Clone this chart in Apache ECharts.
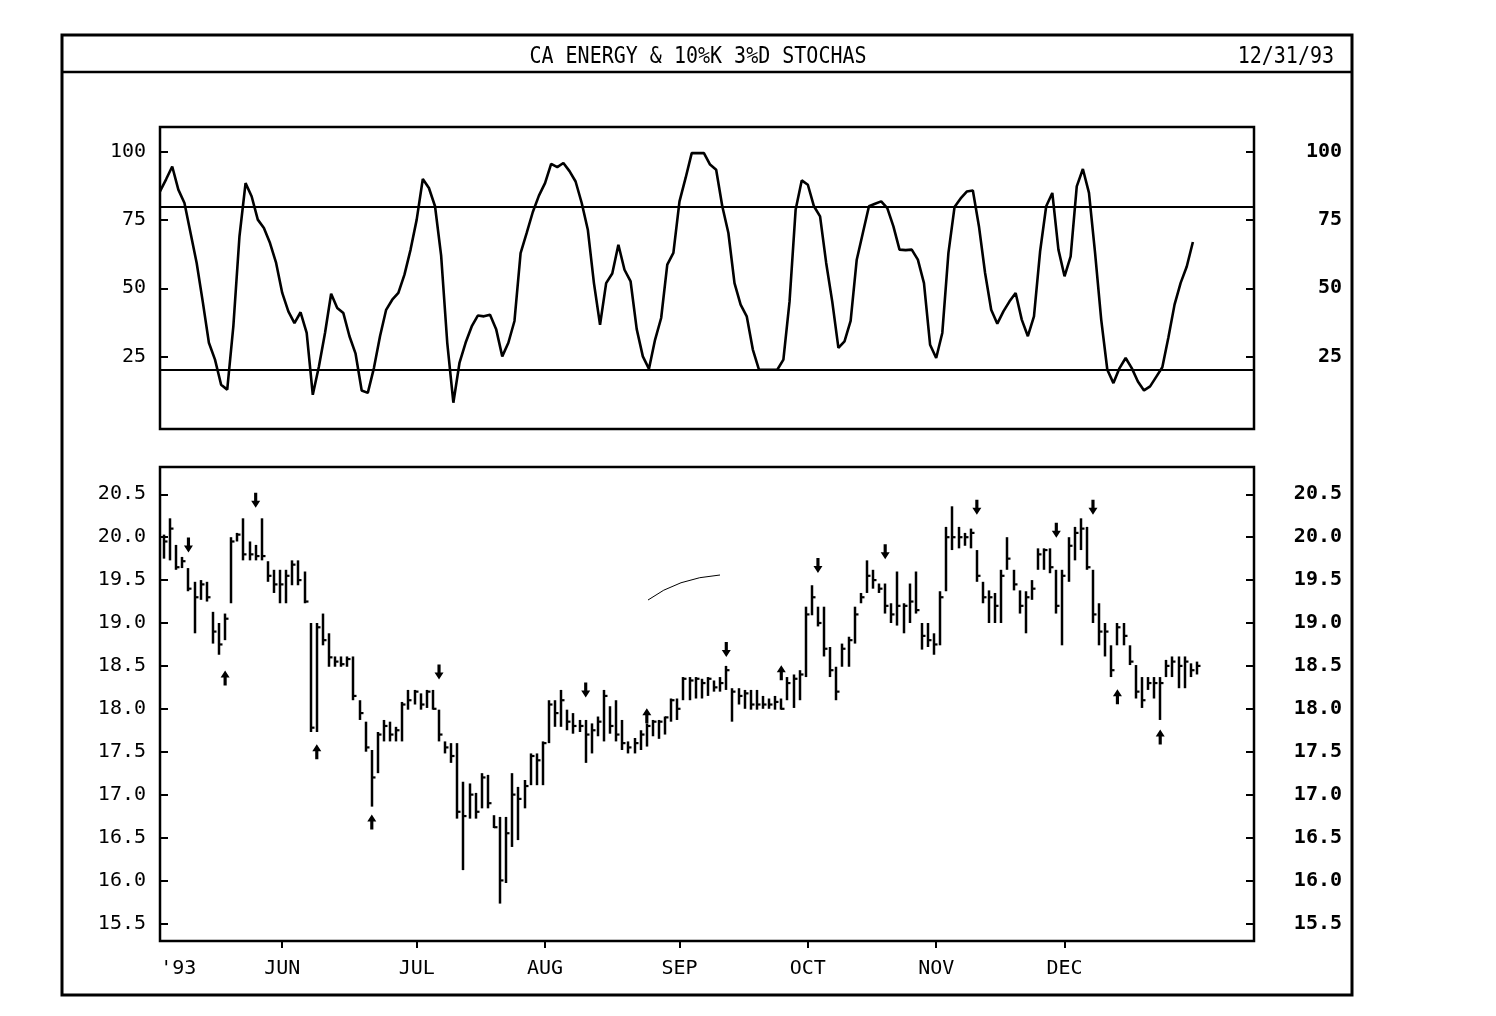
<!DOCTYPE html>
<html><head><meta charset="utf-8">
<script src="https://cdn.jsdelivr.net/npm/echarts@6/dist/echarts.min.js"></script>
<style>html,body{margin:0;padding:0;background:#fff}#c{width:1496px;height:1016px}</style>
</head><body><div id="c"></div>
<script>
// ---- data (trading-day index 0 = 3 May 1993 ... 169 = 31 Dec 1993) ----
const stochK = [
85.6,90,94.7,86.2,81.3,70.3,59.3,45,30,23.8,
14.6,12.8,36,69,88.6,83.7,75.2,72.1,66.6,59.3,
48.3,41.5,37.2,41.2,33.6,10.9,21.3,33.6,48,42.8,
40.9,32.4,26,12.5,11.6,20.7,32.4,42.1,45.8,48.3,
55,64.2,75.2,90.1,86.8,80.1,62,30,8,22.6,
30,36,40,39.7,40.3,35,25,30,38,62.9,
70.3,78,84,88.6,95.7,94.5,96,93,89.2,81.3,
71.5,51.9,36.6,51.9,55.4,66,56.8,52.5,35,25,
20.4,31.1,39.1,58.7,63,81.9,90.5,99.6,99.6,99.6,
95.4,93.5,80.1,70.3,51.9,44,39.7,27.5,20.1,20.1,
20.1,20.1,23.8,45,78.8,89.6,88,80.1,76.4,59.3,
45,28.1,30.5,38,60.5,70.3,80.1,81,81.9,79.4,
72.7,64.2,64,64.2,60.5,51.9,29.3,24.4,33.6,62.9,
79.8,83,85.5,85.9,72.7,55.6,42.1,37,41.5,45.2,
48.3,38.5,32.4,39.7,63.5,80.1,85,64.2,54.4,61.7,
87.4,93.8,85,62.9,38.5,20.1,15.2,20.7,24.4,20.7,
15.8,12.5,14,17.5,21,32,44,52,58,67
];
const highs = [
20.03,20.22,19.91,19.77,19.64,19.48,19.50,19.48,19.13,19.00,
19.11,20.00,20.05,20.22,19.95,19.91,20.22,19.72,19.62,19.62,
19.62,19.73,19.73,19.60,19.00,19.00,19.11,18.88,18.61,18.61,
18.61,18.61,18.10,17.85,17.52,17.73,17.87,17.85,17.79,18.08,
18.22,18.22,18.18,18.22,18.22,17.99,17.62,17.60,17.60,17.15,
17.13,17.02,17.25,17.23,16.76,16.74,16.74,17.25,17.09,17.17,
17.48,17.48,17.62,18.10,18.10,18.22,17.99,17.95,17.87,17.87,
17.83,17.91,18.22,18.03,18.10,17.87,17.62,17.66,17.75,17.83,
17.87,17.87,17.91,18.12,18.12,18.37,18.37,18.37,18.35,18.37,
18.33,18.37,18.50,18.24,18.24,18.22,18.22,18.22,18.15,18.12,
18.15,18.12,18.37,18.40,18.45,19.19,19.44,19.19,19.19,18.72,
18.49,18.76,18.84,19.19,19.35,19.73,19.62,19.46,19.46,19.23,
19.60,19.23,19.46,19.60,19.00,19.00,18.88,19.37,20.12,20.36,
20.12,20.05,20.10,19.85,19.48,19.38,19.35,19.62,20.00,19.62,
19.38,19.37,19.50,19.87,19.87,19.87,19.62,19.62,20.00,20.12,
20.22,20.12,19.62,19.23,19.00,18.74,19.00,19.00,18.74,18.51,
18.37,18.37,18.37,18.37,18.57,18.61,18.61,18.61,18.53,18.55
];
const lows = [
19.75,19.73,19.62,19.64,19.37,18.88,19.27,19.25,18.76,18.63,
18.80,19.23,19.95,19.73,19.73,19.73,19.73,19.48,19.35,19.23,
19.23,19.44,19.44,19.23,17.73,17.73,18.74,18.49,18.49,18.49,
18.49,18.10,17.87,17.50,16.86,17.25,17.62,17.62,17.62,17.62,
17.99,18.05,17.99,18.01,17.99,17.62,17.48,17.37,16.72,16.12,
16.72,16.72,16.84,16.84,16.61,15.73,15.97,16.39,16.47,16.84,
17.11,17.11,17.11,17.60,17.79,17.79,17.75,17.71,17.73,17.37,
17.48,17.68,17.62,17.71,17.62,17.52,17.48,17.48,17.52,17.56,
17.68,17.65,17.70,17.85,17.87,18.10,18.10,18.12,18.12,18.15,
18.20,18.20,18.22,17.85,18.05,18.00,17.99,17.99,18.00,18.00,
17.99,17.99,18.10,18.01,18.10,18.37,19.09,18.96,18.61,18.37,
18.10,18.49,18.49,18.76,19.23,19.35,19.40,19.35,19.11,19.00,
18.97,18.88,19.00,19.11,18.69,18.72,18.63,18.74,19.37,19.85,
19.87,19.90,19.87,19.48,19.23,19.00,19.00,19.00,19.62,19.38,
19.11,18.88,19.27,19.62,19.62,19.58,19.11,18.74,19.48,19.73,
19.85,19.62,19.00,18.74,18.61,18.37,18.74,18.74,18.51,18.12,
18.01,18.22,18.12,17.87,18.37,18.37,18.24,18.24,18.37,18.40
];
const closes = [
19.95,20.10,19.65,19.72,19.40,19.30,19.45,19.30,18.90,18.75,
19.05,19.95,20.03,19.80,19.80,19.78,19.78,19.55,19.45,19.45,
19.55,19.68,19.50,19.25,17.78,18.95,18.80,18.60,18.55,18.52,
18.58,18.15,17.95,17.55,17.20,17.70,17.80,17.70,17.75,18.05,
18.10,18.20,18.05,18.20,18.00,17.70,17.55,17.45,16.80,16.75,
17.00,16.80,17.20,16.90,16.62,16.00,16.55,17.00,16.95,17.10,
17.45,17.40,17.60,18.05,17.95,18.10,17.85,17.80,17.80,17.70,
17.75,17.85,18.15,17.80,17.70,17.60,17.55,17.60,17.70,17.80,
17.85,17.85,17.90,18.10,18.00,18.35,18.33,18.35,18.30,18.35,
18.25,18.30,18.45,18.20,18.15,18.18,18.05,18.05,18.05,18.05,
18.08,18.00,18.30,18.35,18.40,19.10,19.30,19.00,18.70,18.45,
18.20,18.70,18.80,19.10,19.30,19.55,19.50,19.40,19.20,19.10,
19.20,19.20,19.25,19.15,18.85,18.80,18.75,19.30,20.00,20.00,
20.00,20.00,20.05,19.55,19.30,19.30,19.20,19.55,19.75,19.45,
19.20,19.30,19.40,19.80,19.85,19.65,19.20,19.55,19.90,20.05,
20.10,19.65,19.10,18.90,18.90,18.45,18.95,18.85,18.55,18.20,
18.10,18.30,18.30,18.30,18.50,18.55,18.50,18.55,18.45,18.50
];
const sellDays   = [4, 15, 45, 69, 92, 107, 118, 133, 146, 152];
const sellLevels = [19.91, 20.43, 18.43, 18.22, 18.69, 19.67, 19.83, 20.35, 20.08, 20.35];
const buyDays    = [10, 25, 34, 79, 101, 156, 163];
const buyLevels  = [18.36, 17.50, 16.68, 17.92, 18.42, 18.14, 17.67];
const monthTickDays  = [20, 42, 63, 85, 106, 127, 148];
const monthLabelDays = [3, 20, 42, 63, 85, 106, 127, 148];
const monthLabels    = ["'93", 'JUN', 'JUL', 'AUG', 'SEP', 'OCT', 'NOV', 'DEC'];
const stochTicks = [25, 50, 75, 100];
const stochBands = [80, 20];
const priceTicks = [15.5, 16.0, 16.5, 17.0, 17.5, 18.0, 18.5, 19.0, 19.5, 20.0, 20.5];
const titleText = 'CA ENERGY & 10%K 3%D STOCHAS';
const dateText = '12/31/93';

// ---- chart ----
const FONT = 'DejaVu Sans Mono';
const BAR_SHIFT = 4;
const chart = echarts.init(document.getElementById('c'), null, {renderer: 'canvas'});
const priceData = highs.map((h, i) => [i, h, lows[i], closes[i]]);
const lbl = (extra) => Object.assign({color: '#000', fontFamily: FONT, fontSize: 20}, extra);
const tick = (vals) => ({show: true, inside: true, length: 8, customValues: vals, lineStyle: {color: '#000', width: 2}});
const downArrow = 'path://M2.6,0 L5.4,0 L5.4,8 L8,8 L4,15 L0,8 L2.6,8 Z';
const upArrow = 'path://M4,0 L8,7 L5.4,7 L5.4,15 L2.6,15 L2.6,7 L0,7 Z';

chart.setOption({
  animation: false,
  backgroundColor: '#fff',
  graphic: [
    {type: 'rect', shape: {x: 62, y: 35, width: 1290, height: 960}, style: {fill: 'none', stroke: '#000', lineWidth: 3}},
    {type: 'line', shape: {x1: 62, y1: 72, x2: 1352, y2: 72}, style: {stroke: '#000', lineWidth: 2.5}},
    {type: 'text', x: 698, y: 57, scaleY: 1.15, style: {text: titleText, fill: '#000', font: '20px ' + FONT, textAlign: 'center', textVerticalAlign: 'middle'}},
    {type: 'text', x: 1334, y: 57, scaleY: 1.15, style: {text: dateText, fill: '#000', font: '20px ' + FONT, textAlign: 'right', textVerticalAlign: 'middle'}},
    {type: 'bezierCurve', shape: {x1: 648, y1: 600, cpx1: 678, cpy1: 578, x2: 720, y2: 575}, style: {stroke: '#000', lineWidth: 1, fill: 'none'}}
  ],
  grid: [
    {left: 160, top: 127, width: 1094, height: 302, show: true, borderColor: '#000', borderWidth: 2.5, backgroundColor: 'transparent'},
    {left: 160, top: 467, width: 1094, height: 474, show: true, borderColor: '#000', borderWidth: 2.5, backgroundColor: 'transparent'}
  ],
  xAxis: [
    {gridIndex: 0, type: 'value', min: 0, max: 179, show: false},
    {gridIndex: 1, type: 'value', min: 0, max: 179,
     axisLine: {show: false}, splitLine: {show: false},
     axisTick: {show: true, inside: false, length: 7, customValues: monthTickDays, lineStyle: {color: '#000', width: 2}},
     axisLabel: lbl({customValues: monthLabelDays, margin: 18, formatter: v => monthLabels[monthLabelDays.indexOf(v)] || ''})}
  ],
  yAxis: [
    {gridIndex: 0, type: 'value', min: -1.65, max: 109.2, position: 'left',
     axisLine: {show: false}, splitLine: {show: false}, axisTick: tick(stochTicks),
     axisLabel: lbl({customValues: stochTicks, margin: 14})},
    {gridIndex: 0, type: 'value', min: -1.65, max: 109.2, position: 'right',
     axisLine: {show: false}, splitLine: {show: false}, axisTick: tick(stochTicks),
     axisLabel: lbl({customValues: stochTicks, margin: 88, align: 'right', fontWeight: 'bold'})},
    {gridIndex: 1, type: 'value', min: 15.294, max: 20.818, position: 'left',
     axisLine: {show: false}, splitLine: {show: false}, axisTick: tick(priceTicks),
     axisLabel: lbl({customValues: priceTicks, margin: 14, formatter: v => v.toFixed(1)})},
    {gridIndex: 1, type: 'value', min: 15.294, max: 20.818, position: 'right',
     axisLine: {show: false}, splitLine: {show: false}, axisTick: tick(priceTicks),
     axisLabel: lbl({customValues: priceTicks, margin: 88, align: 'right', fontWeight: 'bold', formatter: v => v.toFixed(1)})}
  ],
  series: [
    {type: 'line', xAxisIndex: 0, yAxisIndex: 0, data: stochK.map((v, i) => [i, v]),
     showSymbol: false, symbol: 'none', lineStyle: {color: '#000', width: 2.6}, z: 3,
     markLine: {silent: true, symbol: 'none', label: {show: false},
                lineStyle: {color: '#000', width: 2.2, type: 'solid'},
                data: stochBands.map(v => ({yAxis: v}))}},
    {type: 'custom', xAxisIndex: 1, yAxisIndex: 2, data: priceData, clip: true,
     encode: {x: 0, y: [1, 2, 3]},
     renderItem: function (params, api) {
       const i = api.value(0);
       const h = api.coord([i, api.value(1)]);
       const l = api.coord([i, api.value(2)]);
       const c = api.coord([i, api.value(3)]);
       const x = Math.round(h[0] + BAR_SHIFT);
       return {type: 'group', children: [
         {type: 'line', shape: {x1: x, y1: h[1], x2: x, y2: l[1]}, style: {stroke: '#000', lineWidth: 2.5}},
         {type: 'line', shape: {x1: x, y1: c[1], x2: x + 3.5, y2: c[1]}, style: {stroke: '#000', lineWidth: 2.2}}
       ]};
     }},
    {type: 'scatter', xAxisIndex: 1, yAxisIndex: 2, data: sellDays.map((d, k) => [d, sellLevels[k]]),
     symbol: downArrow, symbolSize: [9, 15], symbolOffset: [BAR_SHIFT, 0], itemStyle: {color: '#000', opacity: 1}, z: 4},
    {type: 'scatter', xAxisIndex: 1, yAxisIndex: 2, data: buyDays.map((d, k) => [d, buyLevels[k]]),
     symbol: upArrow, symbolSize: [9, 15], symbolOffset: [BAR_SHIFT, 0], itemStyle: {color: '#000', opacity: 1}, z: 4}
  ]
});
</script>
</body></html>
